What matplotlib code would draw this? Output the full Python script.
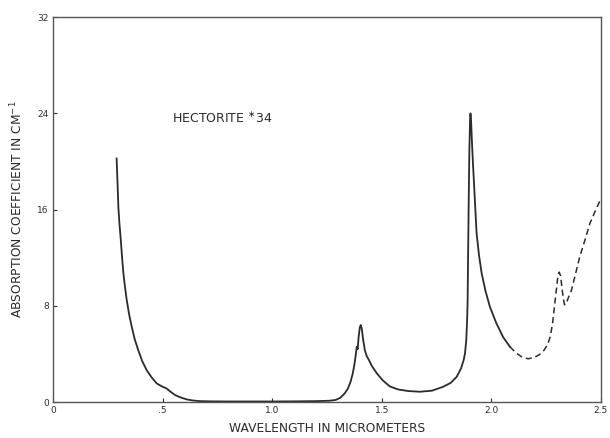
import matplotlib
matplotlib.use("Agg")
import matplotlib.pyplot as plt

# Solid (measured) portion of the absorption spectrum
x_solid = [0.290, 0.294, 0.298, 0.303, 0.309, 0.315, 0.321, 0.328, 0.336, 0.347,
           0.359, 0.373, 0.389, 0.407, 0.427, 0.450, 0.473, 0.495, 0.518, 0.537,
           0.557, 0.583, 0.610, 0.640, 0.670, 0.720, 0.800, 0.900, 1.000, 1.100,
           1.200, 1.260, 1.290, 1.310, 1.330, 1.345, 1.358, 1.368, 1.376, 1.382,
           1.386, 1.390, 1.395, 1.400, 1.404, 1.409, 1.415, 1.423, 1.432, 1.440,
           1.455, 1.477, 1.505, 1.537, 1.575, 1.620, 1.674, 1.730, 1.780, 1.815,
           1.842, 1.862, 1.874, 1.880, 1.886, 1.890, 1.892, 1.894, 1.897, 1.900,
           1.903, 1.905, 1.908, 1.912, 1.917, 1.925, 1.933, 1.944, 1.956, 1.974,
           1.994, 2.022, 2.054, 2.085]
y_solid = [20.25, 18.3, 16.2, 14.8, 13.5, 12.0, 10.7, 9.6, 8.5, 7.3,
           6.26, 5.2, 4.3, 3.4, 2.66, 2.05, 1.55, 1.32, 1.13, 0.85,
           0.58, 0.38, 0.22, 0.13, 0.08, 0.06, 0.05, 0.05, 0.05, 0.06,
           0.08, 0.11, 0.18, 0.35, 0.7, 1.1, 1.7, 2.4, 3.2, 4.0,
           4.6, 4.4, 5.5, 6.2, 6.4, 6.1, 5.2, 4.3, 3.8, 3.55,
           3.0, 2.4, 1.8, 1.3, 1.05, 0.92, 0.86, 0.95, 1.27, 1.6,
           2.1, 2.8, 3.5, 4.05, 5.2, 7.0, 8.5, 12.0, 16.8, 21.0,
           23.4, 24.0, 23.3, 21.5, 19.6, 16.8, 14.0, 12.2, 10.7, 9.2,
           7.9, 6.6, 5.4, 4.6]

# Dashed (extrapolated) portion
x_dash = [2.085, 2.115, 2.140, 2.168, 2.195, 2.220, 2.240, 2.258, 2.270, 2.280,
          2.290, 2.298, 2.304, 2.310, 2.316, 2.322, 2.328, 2.334, 2.340, 2.350,
          2.366, 2.385, 2.404, 2.428, 2.450, 2.475, 2.500]
y_dash = [4.6, 4.05, 3.75, 3.6, 3.7, 3.95, 4.3, 4.8, 5.5, 6.6,
          8.2, 9.5, 10.5, 10.8, 10.5, 9.6, 8.7, 8.1, 8.1, 8.6,
          9.3, 10.7, 12.1, 13.5, 14.85, 15.9, 16.9]

x_ticks = [0, 0.5, 1.0, 1.5, 2.0, 2.5]
x_ticklabels = ["0", ".5", "1.0", "1.5", "2.0", "2.5"]
y_ticks = [0, 8, 16, 24, 32]
y_ticklabels = ["0", "8", "16", "24", "32"]

col = "#2b2b2b"
fig = plt.figure(figsize=(6.10, 4.38), dpi=100)
ax = fig.add_axes([0.087, 0.082, 0.898, 0.879])

ax.plot(x_solid, y_solid, color=col, lw=1.3, solid_joinstyle="round")
ax.plot(x_dash, y_dash, color=col, lw=1.1, dashes=(4, 2.5))

ax.set_xlim(0, 2.5)
ax.set_ylim(0, 32)
ax.set_xticks(x_ticks)
ax.set_xticklabels(x_ticklabels)
ax.set_yticks(y_ticks)
ax.set_yticklabels(y_ticklabels)
ax.tick_params(axis="both", direction="in", length=3, width=0.8, colors=col,
               labelsize=6.5, pad=3)
for s in ax.spines.values():
    s.set_color("#555555")
    s.set_linewidth(1.0)

ax.set_xlabel("WAVELENGTH IN MICROMETERS", fontsize=8.8, color=col, labelpad=5)
ax.set_ylabel("ABSORPTION COEFFICIENT IN CM$^{-1}$", fontsize=8.8, color=col, labelpad=9)

ax.text(0.545, 23.6, "HECTORITE $^{\\ast}$34", fontsize=9, color=col,
        ha="left", va="center")

fig.savefig("out.png", dpi=100)
